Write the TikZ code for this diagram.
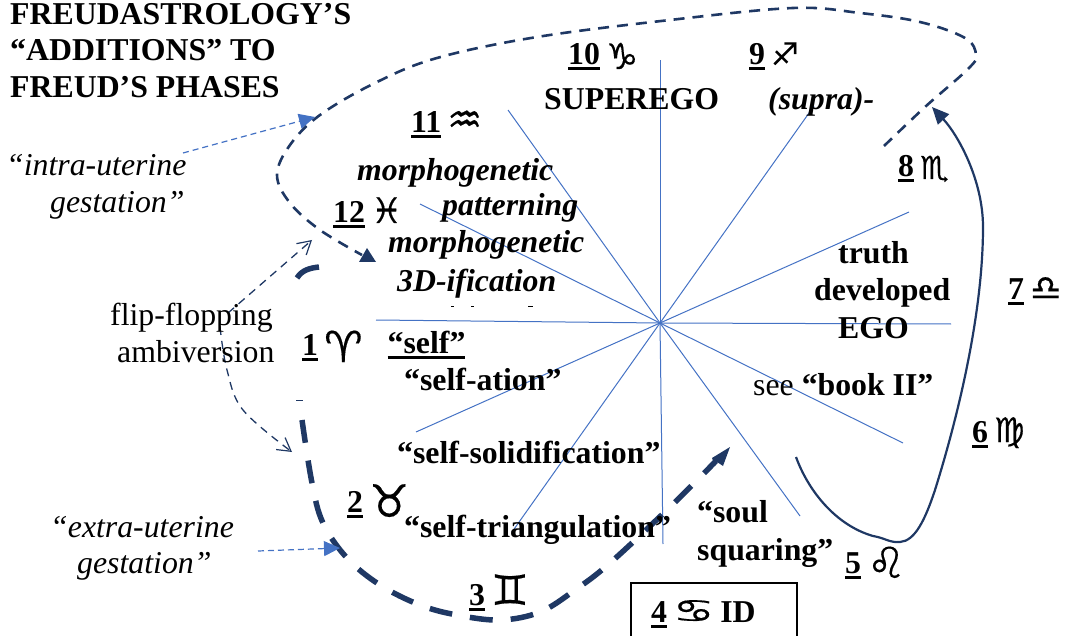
\documentclass[tikz,border=0pt]{standalone}
\usepackage{fontspec}
\setmainfont{Liberation Serif}
\newfontfamily\zod[FakeBold=0.3]{DejaVu Sans}
\usetikzlibrary{arrows.meta}
\definecolor{navy}{HTML}{1F3864}
\definecolor{ray}{HTML}{4472C4}
\newcommand{\ulb}[1]{\setbox0\hbox{#1}\rlap{\copy0}\rlap{\raisebox{-5.5pt}{\rule{\wd0}{3pt}}}\hskip\wd0\relax}
\newcommand{\znum}[4][0]{\ulb{\bfseries #2}\hskip 6pt\raisebox{-#1pt}{\fontsize{#4}{#4}\zod #3}}
\tikzset{
  txt/.style={inner sep=0pt,anchor=base west,font=\fontsize{31.8}{36}\selectfont},
  btxt/.style={txt,font=\fontsize{31.8}{36}\selectfont\bfseries},
  bitxt/.style={txt,font=\fontsize{31.8}{36}\selectfont\bfseries\itshape},
  itxt/.style={txt,font=\fontsize{31.8}{36}\selectfont\itshape},
  rayline/.style={ray,line width=1pt},
  bluelead/.style={ray,line width=1.2pt,dash pattern=on 6pt off 4pt,-{Triangle[length=16pt,width=15pt,fill=ray]}},
  flip/.style={navy,line width=1.3pt,dash pattern=on 8pt off 6pt,-{Straight Barb[length=13pt,width=15pt,line width=1.2pt]}},
  thindash/.style={navy,line width=2.6pt,dash pattern=on 11pt off 8pt},
  thickdash/.style={navy,line width=5.5pt,dash pattern=on 23pt off 18pt},
  solidnavy/.style={navy,line width=2.2pt}
}
\begin{document}
\begin{tikzpicture}[x=1pt,y=-1pt]
\useasboundingbox (0,0) rectangle (1068,636);
% rays
\coordinate (c) at (660,323);
\foreach \n/\p in {r1/{660,60},r2/{814,106},r3/{909,212},r4/{951,324},r5/{903,443},r6/{800,516},r7/{663,544},r8/{512,532},r9/{416,432},r10/{376,320},r11/{420,204},r12/{508,110}}{
  \coordinate (\n) at (\p);
  \draw[rayline] (c) -- (\n);
}
% top dashed arrow
\coordinate (ts) at (884,146);
\coordinate (te) at (376,262);
\draw[thindash] plot[smooth,tension=0.6] coordinates {(ts) (925,107) (968,69) (976,55) (965,38) (920,22) (860,13) (793,8) (670,20) (537,37) (437,58) (375,83) (320,115) (290,145) (277,175) (290,203) (320,230) (362,255)};
\path[fill=navy] (te) -- (359,262) -- (367,248) -- cycle;
% blue leaders
\coordinate (ia) at (183,153);
\coordinate (ib) at (315,117);
\draw[bluelead] (ia) -- (ib);
\coordinate (ea) at (258,551);
\coordinate (eb) at (340,548);
% heavy dashed arrow
\coordinate (hs) at (302,420);
\coordinate (he) at (730,447);
\draw[thickdash] plot[smooth,tension=0.6] coordinates {(hs) (312,483) (323,523) (347,558) (380,585) (420,605) (457,615) (500,620) (540,612) (575,590) (610,563) (670,507) (716,461)};
\path[fill=navy] (he) -- (723,466) -- (717,462) -- (715,466) -- (712,458) -- cycle;
\coordinate (st1) at (297,278);
\coordinate (st2) at (319,267);
\draw[navy,line width=5.5pt] (st1) .. controls (302,270) and (310,268) .. (st2);
\coordinate (tk1) at (296,400);
\coordinate (tk2) at (303,400);
\draw[navy,line width=1pt] (tk1) -- (tk2);
\draw[bluelead] (ea) -- (eb);
% solid arrow
\coordinate (ss) at (796,457);
\coordinate (se) at (932,107);
\draw[solidnavy,-{Triangle[length=17pt,width=15pt]}] (ss) .. controls (808,490) and (835,525) .. (873,536) .. controls (885,538) and (890,543) .. (900,542) .. controls (915,541) and (925,520) .. (935,490) .. controls (960,410) and (983,310) .. (983,227) .. controls (983,180) and (958,135) .. (se);
% flip arrows
\coordinate (fa) at (228,313);
\coordinate (fb) at (312,240);
\draw[flip] (fa) -- (fb);
\coordinate (fc) at (220,327);
\coordinate (fd) at (292,452);
\draw[flip] plot[smooth,tension=0.6] coordinates {(fc) (227,370) (243,410) (fd)};
% clipped letter tops below 3D-ification
\coordinate (k1) at (451,307); \coordinate (k2) at (454,307);
\coordinate (k3) at (471,307); \coordinate (k4) at (474,307);
\coordinate (k5) at (528,307); \coordinate (k6) at (533,307);
\draw[black,line width=1pt] (k1) -- (k2) (k3) -- (k4) (k5) -- (k6);
% title
\node[btxt] (t1) at (10,25) {FREUDASTROLOGY’S};
\node[btxt] (t2) at (10,61) {“ADDITIONS” TO};
\node[btxt] (t3) at (10,98) {FREUD’S PHASES};
% signs
\node[txt] (s10) at (568,65) {\znum[4]{10}{♑}{36}};
\node[btxt] (sup) at (544,110) {SUPEREGO};
\node[txt] (s9) at (749,65) {\znum{9}{♐}{31}};
\node[bitxt] (supra) at (768,110) {(supra)-};
\node[txt] (s11) at (411,133) {\znum{11}{♒}{39}};
\node[bitxt] (m1) at (357,181) {morphogenetic};
\node[bitxt] (pat) at (442,216) {patterning};
\node[txt] (s12) at (333,223) {\znum{12}{♓}{35}};
\node[bitxt] (m2) at (388,253) {morphogenetic};
\node[bitxt] (m3) at (397,291) {3D-ification};
\node[txt] (s8) at (898,177) {\znum[2]{8}{♏}{32}};
\node[btxt] (tr) at (838,264) {truth};
\node[btxt] (dev) at (814,301) {developed};
\node[btxt] (ego) at (838,338) {EGO};
\node[txt] (s7) at (1008,300) {\znum{7}{♎}{35}};
\node[txt] (see) at (753,395) {see \textbf{“book II”}};
\node[txt] (s6) at (972,442) {\znum{6}{♍}{34}};
\node[btxt] (soul) at (697,522) {“soul};
\node[btxt] (squ) at (697,560) {squaring”};
\node[txt] (s5) at (845,573) {\znum[5]{5}{♌}{43}};
\coordinate (b1) at (631,640);
\coordinate (b2) at (797,583);
\draw[black,line width=1.5pt] (b1) rectangle (b2);
\node[txt] (s4) at (651,622) {\ulb{\bfseries 4}\hskip 6pt\scalebox{1}[0.7]{\fontsize{46}{46}\zod ♋}\hskip 6pt\textbf{ID}};
\node[txt] (s3) at (469,605) {\znum{3}{♊}{42}};
\node[txt] (s2) at (347,512) {\znum[5]{2}{♉}{45}};
\node[btxt] (st) at (404,537) {“self-triangulation”};
\node[btxt] (ss2) at (397,463) {“self-solidification”};
\node[btxt] (sa) at (404,390) {“self-ation”};
\node[btxt] (sf) at (387,353) {\ulb{“self”}};
\node[txt] (s1) at (302,355) {\znum[7]{1}{♈}{43}};
\node[txt] (ff) at (110,325) {flip-flopping};
\node[txt] (amb) at (117,362) {ambiversion};
\node[itxt] (ig1) at (6,176) {“intra-uterine};
\node[itxt] (ig2) at (50,213) {gestation”};
\node[itxt] (eg1) at (50,537) {“extra-uterine};
\node[itxt] (eg2) at (77,573) {gestation”};
\end{tikzpicture}
\end{document}
